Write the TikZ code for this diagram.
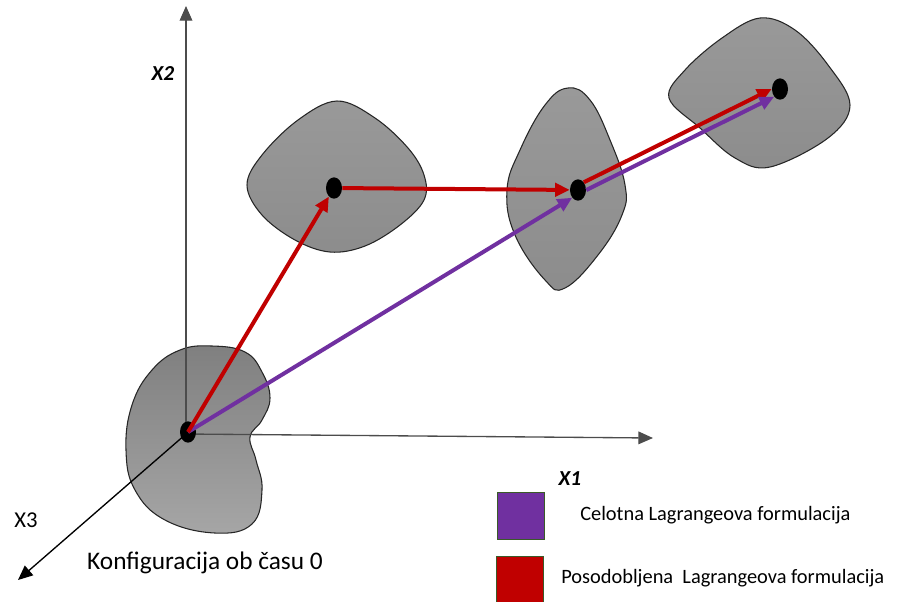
\documentclass[tikz,border=0pt]{standalone}
\usepackage{fontspec}
\setmainfont{Carlito}
\usepackage{tikz}
\usetikzlibrary{arrows.meta,shapes,backgrounds,calc}
\definecolor{lagrpurple}{HTML}{7030A0}
\definecolor{lagrred}{HTML}{C00000}
\definecolor{legborder}{HTML}{3A5A28}
\tikzstyle{axis}=[line width=1pt,-{Triangle[length=11pt,width=9.5pt]}]
\tikzstyle{body}=[draw=black!85,line width=0.8pt,top color=black!40,bottom color=black!45]
\tikzstyle{pnt}=[ellipse,fill=black,inner sep=0pt,minimum width=12pt,minimum height=16pt]
\tikzstyle{tlf}=[lagrpurple,line width=3pt,-{Triangle[length=11pt,width=10pt]}]
\tikzstyle{ulf}=[lagrred,line width=3pt,-{Triangle[length=11pt,width=10pt]}]
\tikzstyle{legbox}=[draw=legborder,line width=1.2pt,minimum width=35pt,minimum height=35pt,inner sep=0pt]
\tikzstyle{lbl}=[font=\fontsize{16}{18}\selectfont\bfseries\itshape]
\tikzstyle{legtxt}=[anchor=west,inner sep=0pt,font=\fontsize{15.3}{17}\selectfont]

\begin{document}
\begin{tikzpicture}[x=0.75pt,y=-0.75pt]
\useasboundingbox (0,0) rectangle (898,601);
% bodies
\draw[body,top color=black!50,bottom color=black!35] plot[smooth cycle,tension=0.7] coordinates {(212,346) (245,352) (262,372) (270,398) (262,420) (250,437) (256,460) (262,490) (252,524) (215,533) (165,520) (135,490) (126,450) (132,405) (152,370) (180,350)};
\draw[body] plot[smooth cycle,tension=0.6] coordinates {(337,101) (375,118) (408,148) (424,175) (424,200) (400,225) (365,246) (330,252) (295,240) (262,215) (247,185) (262,155) (298,120)};
\draw[body] plot[smooth cycle,tension=0.7] coordinates {(568,88) (590,100) (610,140) (625,185) (622,215) (598,255) (565,288) (545,280) (515,235) (507,190) (520,150) (545,105)};
\draw[body] plot[smooth cycle,tension=0.6] coordinates {(760,18) (795,30) (828,65) (850,105) (828,138) (770,167) (735,158) (700,128) (669,98) (685,70) (722,38)};
% axes
\coordinate (O) at (186,434);
\coordinate (e1) at (653,438);
\coordinate (e2) at (186,6);
\coordinate (e3) at (18,580);
\draw[axis,black!70] (O) -- (e1);
\draw[axis,black!70] (O) -- (e2);
\draw[axis,black] (O) -- (e3);
\node[lbl] (x1) at (570,479) {X1};
\node[lbl] (x2) at (163,74) {X2};
\node[font=\fontsize{17}{19}\selectfont] (x3) at (26,520) {X3};
\node[font=\fontsize{19}{21}\selectfont] (k0) at (205,563) {Konfiguracija ob času 0};
% points
\node[pnt] (d0) at (188,432) {};
\node[pnt] (d1) at (334,188) {};
\node[pnt] (d2) at (578,190) {};
\node[pnt] (d3) at (780,89) {};
% paths
\draw[tlf] (d0.center) -- (d2.south west);
\draw[ulf] (d0.center) -- (d1);
\draw[ulf] (d1) -- (d2);
\draw[ulf] (d2.north east) -- (d3.west);
\draw[tlf] (d2.east) -- (d3.south west);
% legend
\node[legbox,fill=lagrpurple] (lp) at (521,516) {};
\node[legbox,fill=lagrred] (lr) at (520,580) {};
\node[legtxt] (tp) at (580,515) {Celotna Lagrangeova formulacija};
\node[legtxt] (tr) at (561,578) {Posodobljena\ \ Lagrangeova formulacija};
\end{tikzpicture}
\end{document}
